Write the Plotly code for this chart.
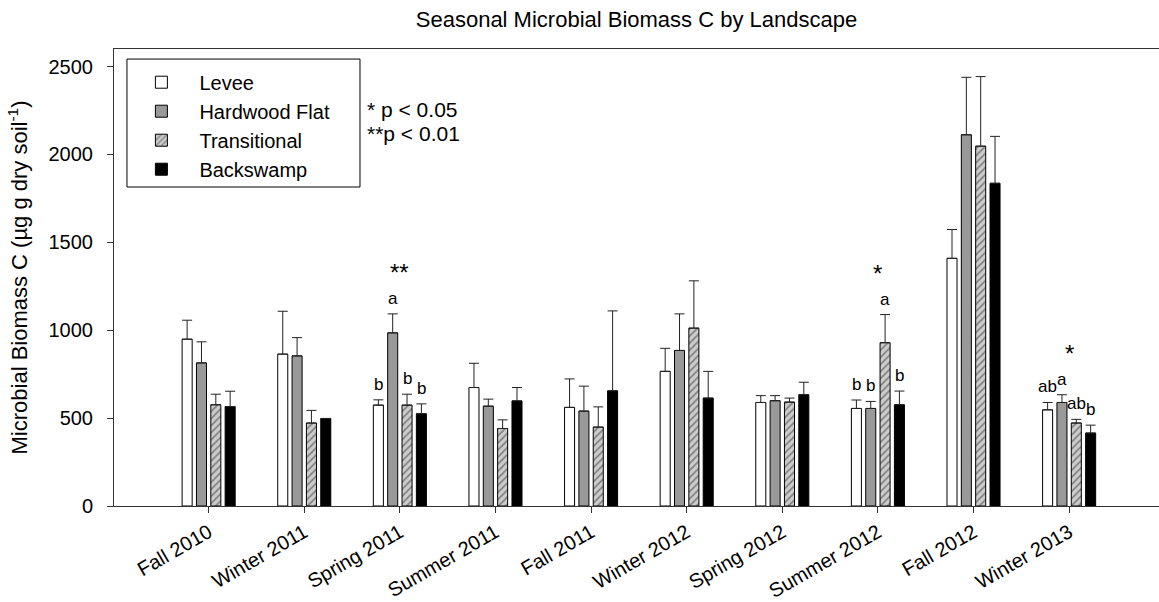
import plotly.graph_objects as go

seasons = ["Fall 2010", "Winter 2011", "Spring 2011", "Summer 2011", "Fall 2011",
           "Winter 2012", "Spring 2012", "Summer 2012", "Fall 2012", "Winter 2013"]

levee = [949, 864, 574, 674, 561, 766, 589, 555, 1409, 547]
levee_se = [108, 244, 30, 138, 162, 131, 39, 48, 164, 42]

hardwood = [814, 854, 985, 568, 540, 885, 599, 555, 2112, 589]
hardwood_se = [120, 104, 108, 40, 142, 208, 29, 40, 327, 44]

transitional = [576, 472, 574, 441, 449, 1012, 591, 929, 2047, 472]
transitional_se = [60, 72, 62, 49, 115, 269, 23, 160, 396, 21]

backswamp = [566, 498, 525, 598, 655, 614, 633, 576, 1836, 415]
backswamp_se = [87, 0, 56, 76, 455, 152, 71, 78, 267, 45]

series_names = ["Levee", "Hardwood Flat", "Transitional", "Backswamp"]

# significance letters per landscape
sig_letters = {
    "Spring 2011": ["b", "a", "b", "b"],
    "Summer 2012": ["b", "b", "a", "b"],
    "Winter 2013": ["ab", "a", "ab", "b"],
}
# season -> (stars, index of landscape whose error bar the stars sit above)
sig_stars = {
    "Spring 2011": ("**", 1),
    "Summer 2012": ("*", 2),
    "Winter 2013": ("*", 1),
}
p_legend = ["* p < 0.05", "**p < 0.01"]

FONT = "Liberation Sans, Arial, sans-serif"
BARGAP = 0.4
BARGROUPGAP = 0.3
x_idx = list(range(len(seasons)))

styles = [
    dict(color="white"),
    dict(color="#999999"),
    dict(color="#c8c8c8", pattern=dict(shape="/", bgcolor="#cdcdcd", fgcolor="#3a3a3a",
                                       size=5, solidity=0.35)),
    dict(color="black"),
]
values = [levee, hardwood, transitional, backswamp]
errors = [levee_se, hardwood_se, transitional_se, backswamp_se]

fig = go.Figure()
for name, vals, errs, st in zip(series_names, values, errors, styles):
    marker = dict(color=st["color"], line=dict(color="black", width=1))
    if "pattern" in st:
        marker["pattern"] = st["pattern"]
    fig.add_trace(go.Bar(
        x=x_idx, y=vals, name=name, marker=marker,
        error_y=dict(type="data", array=errs, arrayminus=[0] * len(errs), symmetric=False,
                     color="#222222", thickness=1, width=5),
    ))

slot = (1 - BARGAP) / len(series_names)
annotations = []
for season, letters in sig_letters.items():
    i = seasons.index(season)
    for k, lab in enumerate(letters):
        top = values[k][i] + errors[k][i]
        annotations.append(dict(
            x=i + (k - 1.5) * slot, y=top, xref="x", yref="y", text=lab, showarrow=False,
            yanchor="bottom", yshift=4, font=dict(size=17, color="black", family=FONT)))
for season, (star, k) in sig_stars.items():
    i = seasons.index(season)
    top = values[k][i] + errors[k][i]
    annotations.append(dict(
        x=i, y=top, xref="x", yref="y", text=star, showarrow=False,
        yanchor="bottom", yshift=26, font=dict(size=24, color="black", family=FONT)))

annotations.append(dict(
    x=0.2402, y=0.8414, xref="paper", yref="paper",
    text="<br>".join("<span style='font-size:21px'>%s</span>" % t for t in p_legend),
    showarrow=False, xanchor="left", yanchor="middle", align="left",
    font=dict(size=18.6, color="black", family=FONT)))

fig.update_layout(
    width=1159, height=602,
    margin=dict(l=114, r=0, t=49, b=96),
    paper_bgcolor="white", plot_bgcolor="white",
    barmode="group", bargap=BARGAP, bargroupgap=BARGROUPGAP,
    font=dict(family=FONT, color="black"),
    title=dict(text="Seasonal Microbial Biomass C by Landscape", x=0.5, xref="paper",
               xanchor="center", y=1 - 19 / 602, yref="container", yanchor="middle",
               font=dict(size=22, color="black", family=FONT)),
    showlegend=True,
    legend=dict(x=0.009, y=0.970, xanchor="left", yanchor="top",
                bgcolor="rgba(0,0,0,0)", borderwidth=0, itemwidth=66,
                font=dict(size=20, color="black", family=FONT), traceorder="normal",
                itemclick=False, itemdoubleclick=False),
    shapes=[dict(type="rect", xref="paper", yref="paper", x0=0.0124, x1=0.2354, y0=0.698,
                 y1=0.978, line=dict(color="black", width=1), fillcolor="white", layer="above")],
    annotations=annotations,
)

fig.update_xaxes(
    range=[-0.99, 9.94], tickmode="array", tickvals=x_idx, ticktext=seasons,
    tickangle=-30, showline=True, linecolor="#333333", linewidth=1, mirror=True,
    ticks="outside", ticklen=6, tickcolor="#333333", showgrid=False, zeroline=False,
    automargin=False,
    tickfont=dict(size=20, color="black", family=FONT),
)
fig.update_yaxes(
    range=[0, 2600], tickvals=[0, 500, 1000, 1500, 2000, 2500],
    showline=True, linecolor="#333333", linewidth=1,
    ticks="outside", ticklen=6, tickcolor="#333333", showgrid=False, zeroline=False,
    ticklabelstandoff=10, automargin=False,
    tickfont=dict(size=20, color="black", family=FONT),
    title=dict(text="Microbial Biomass C (µg g dry soil<sup>-1</sup>)", standoff=14,
               font=dict(size=22, color="black", family=FONT)),
)

fig.write_html("out.html")
